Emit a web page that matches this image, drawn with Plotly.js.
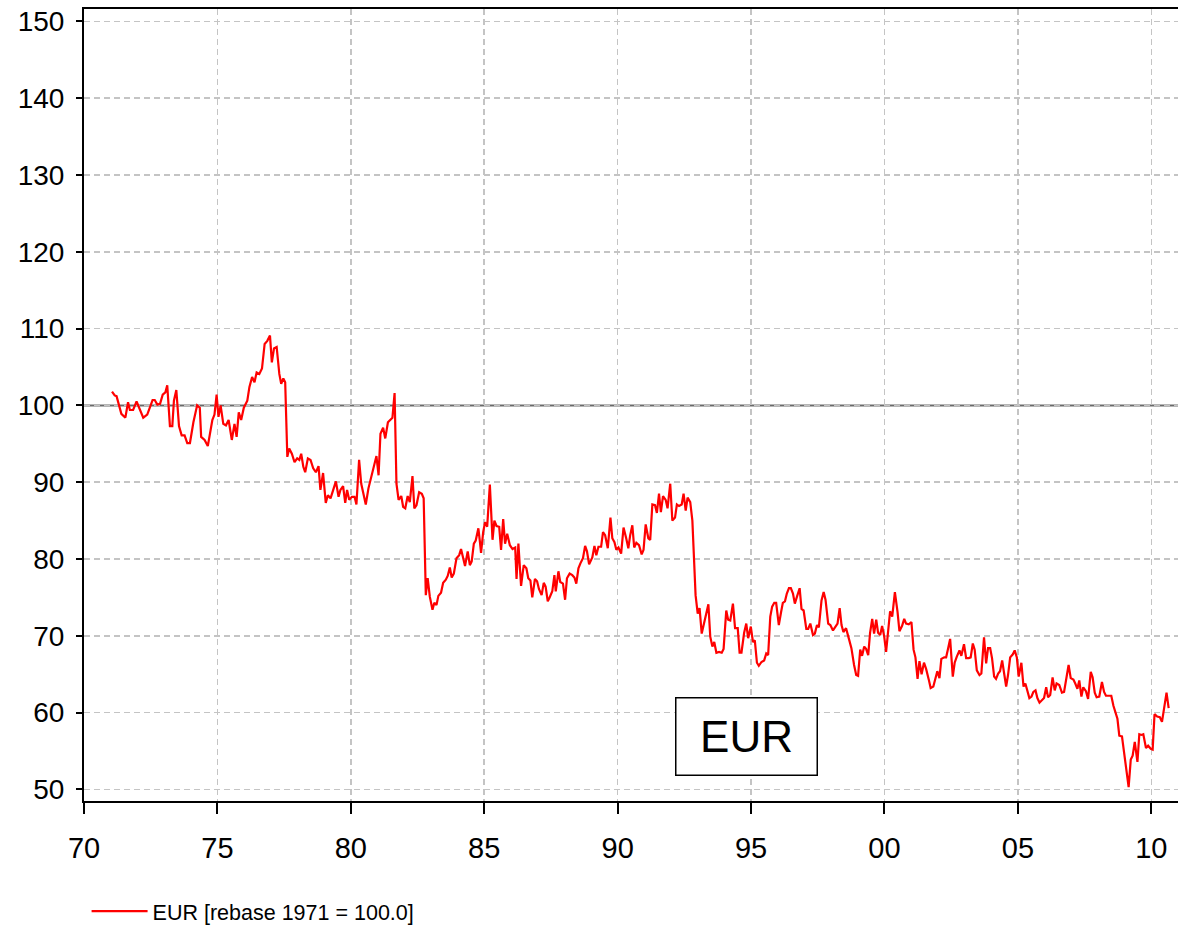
<!DOCTYPE html>
<html>
<head>
<meta charset="utf-8">
<script src="https://cdn.plot.ly/plotly-3.0.1.min.js"></script>
<style>html,body{margin:0;padding:0;background:#fff;}#chart{width:1178px;height:926px;}</style>
</head>
<body>
<div id="chart"></div>
<script>
const seriesName = "EUR [rebase 1971 = 100.0]";
const boxLabel = "EUR";
const tickYears = [1970, 1975, 1980, 1985, 1990, 1995, 2000, 2005, 2010];
const tickLabels = ["70", "75", "80", "85", "90", "95", "00", "05", "10"];
const yTicks = [50, 60, 70, 80, 90, 100, 110, 120, 130, 140, 150];
const baseLevel = 100;

const years = [
1971.05,1971.15,1971.22,1971.31,1971.40,1971.55,1971.65,1971.72,1971.84,1971.97,
1972.10,1972.22,1972.37,1972.47,1972.57,1972.65,1972.75,1972.85,1972.95,1973.05,
1973.12,1973.22,1973.31,1973.37,1973.46,1973.56,1973.66,1973.77,1973.87,1973.97,
1974.10,1974.24,1974.34,1974.39,1974.52,1974.64,1974.81,1974.89,1974.97,1975.04,
1975.12,1975.22,1975.32,1975.42,1975.54,1975.64,1975.72,1975.80,1975.89,1975.99,
1976.12,1976.20,1976.30,1976.39,1976.47,1976.57,1976.67,1976.77,1976.87,1976.97,
1977.04,1977.12,1977.22,1977.32,1977.39,1977.47,1977.54,1977.62,1977.69,1977.79,
1977.89,1977.99,1978.07,1978.14,1978.22,1978.29,1978.39,1978.49,1978.59,1978.69,
1978.79,1978.86,1978.96,1979.06,1979.14,1979.24,1979.34,1979.44,1979.54,1979.61,
1979.71,1979.79,1979.86,1979.94,1980.04,1980.14,1980.21,1980.31,1980.39,1980.46,
1980.56,1980.66,1980.76,1980.86,1980.96,1981.04,1981.11,1981.21,1981.29,1981.39,
1981.49,1981.56,1981.64,1981.71,1981.79,1981.89,1981.96,1982.04,1982.13,1982.21,
1982.31,1982.38,1982.46,1982.56,1982.66,1982.73,1982.81,1982.88,1982.96,1983.06,
1983.13,1983.21,1983.28,1983.38,1983.46,1983.56,1983.63,1983.71,1983.78,1983.86,
1983.96,1984.06,1984.13,1984.21,1984.28,1984.38,1984.46,1984.53,1984.61,1984.68,
1984.78,1984.83,1984.88,1984.96,1985.03,1985.11,1985.21,1985.31,1985.38,1985.46,
1985.56,1985.63,1985.71,1985.78,1985.86,1985.96,1986.06,1986.16,1986.21,1986.28,
1986.38,1986.48,1986.58,1986.65,1986.73,1986.80,1986.90,1986.98,1987.05,1987.15,
1987.23,1987.30,1987.38,1987.45,1987.55,1987.63,1987.68,1987.78,1987.85,1987.95,
1988.03,1988.10,1988.20,1988.30,1988.38,1988.45,1988.53,1988.60,1988.70,1988.78,
1988.85,1988.93,1989.05,1989.13,1989.20,1989.28,1989.38,1989.45,1989.53,1989.63,
1989.73,1989.80,1989.88,1989.95,1990.03,1990.13,1990.22,1990.32,1990.40,1990.47,
1990.55,1990.62,1990.70,1990.80,1990.90,1990.97,1991.05,1991.15,1991.22,1991.30,
1991.40,1991.47,1991.55,1991.62,1991.70,1991.80,1991.87,1991.97,1992.05,1992.15,
1992.22,1992.30,1992.40,1992.47,1992.55,1992.62,1992.72,1992.80,1992.87,1992.92,
1993.00,1993.07,1993.15,1993.25,1993.32,1993.40,1993.47,1993.55,1993.62,1993.70,
1993.80,1993.90,1993.97,1994.07,1994.14,1994.22,1994.32,1994.40,1994.50,1994.57,
1994.64,1994.74,1994.82,1994.89,1994.99,1995.07,1995.14,1995.22,1995.29,1995.39,
1995.49,1995.57,1995.64,1995.72,1995.79,1995.87,1995.94,1996.04,1996.12,1996.19,
1996.27,1996.34,1996.42,1996.49,1996.57,1996.64,1996.72,1996.82,1996.89,1996.97,
1997.07,1997.14,1997.22,1997.32,1997.39,1997.47,1997.54,1997.64,1997.72,1997.79,
1997.89,1997.97,1998.07,1998.17,1998.24,1998.32,1998.39,1998.46,1998.56,1998.66,
1998.76,1998.86,1998.94,1999.01,1999.09,1999.16,1999.24,1999.31,1999.39,1999.46,
1999.54,1999.61,1999.69,1999.76,1999.84,1999.91,1999.99,2000.06,2000.14,2000.21,
2000.29,2000.39,2000.49,2000.56,2000.66,2000.74,2000.81,2000.91,2001.01,2001.09,
2001.16,2001.24,2001.31,2001.39,2001.48,2001.56,2001.66,2001.73,2001.83,2001.91,
2001.98,2002.06,2002.13,2002.24,2002.31,2002.38,2002.46,2002.56,2002.63,2002.71,
2002.81,2002.88,2002.98,2003.06,2003.16,2003.23,2003.31,2003.38,2003.46,2003.56,
2003.63,2003.73,2003.81,2003.88,2003.96,2004.03,2004.11,2004.18,2004.26,2004.33,
2004.41,2004.48,2004.56,2004.63,2004.71,2004.81,2004.88,2004.96,2005.03,2005.13,
2005.21,2005.28,2005.36,2005.43,2005.51,2005.58,2005.66,2005.73,2005.81,2005.88,
2005.98,2006.06,2006.13,2006.21,2006.30,2006.38,2006.45,2006.55,2006.65,2006.73,
2006.83,2006.90,2006.98,2007.08,2007.15,2007.23,2007.30,2007.38,2007.45,2007.55,
2007.63,2007.73,2007.80,2007.88,2007.95,2008.05,2008.15,2008.23,2008.30,2008.40,
2008.50,2008.58,2008.65,2008.73,2008.80,2008.90,2008.98,2009.08,2009.15,2009.23,
2009.30,2009.38,2009.48,2009.55,2009.63,2009.70,2009.80,2009.88,2009.98,2010.05,
2010.12,2010.22,2010.32,2010.40,2010.47,2010.57,2010.65
];

const values = [
101.8,101.3,101.2,100.0,98.9,98.4,100.4,99.4,99.4,100.5,
99.4,98.4,98.8,99.7,100.7,100.7,100.1,100.2,101.4,101.7,
102.6,97.3,97.3,100.6,102.0,97.3,96.1,96.1,95.1,95.1,
97.8,100.0,99.7,95.9,95.5,94.7,98.1,98.8,101.4,98.5,
100.0,97.6,97.4,98.1,95.5,97.6,95.9,99.1,98.1,99.7,
100.6,102.4,103.7,103.0,104.3,104.1,104.8,108.0,108.4,109.1,
105.6,107.4,107.6,104.1,102.8,103.5,103.0,93.3,94.4,93.7,
92.6,93.1,92.9,93.7,92.0,91.3,93.1,92.9,91.8,91.3,
92.1,89.0,91.2,87.3,88.3,87.9,89.0,90.1,88.1,89.0,
89.5,87.3,89.0,87.7,88.1,88.1,87.1,92.9,89.8,88.7,
87.1,89.2,90.7,92.0,93.4,90.9,96.3,97.1,95.7,97.8,
98.1,98.4,101.6,89.8,87.7,88.2,86.8,86.6,88.2,87.4,
90.8,86.6,87.0,88.7,88.5,87.9,75.3,77.5,75.1,73.4,
74.3,74.0,75.2,75.6,76.9,77.3,77.8,78.9,77.6,78.1,
80.1,80.5,81.3,80.3,79.1,81.0,79.2,79.7,82.0,82.4,
84.0,82.5,80.8,83.5,84.8,84.2,89.7,82.5,85.0,84.3,
84.2,81.2,85.2,82.0,83.3,81.8,81.3,81.5,77.4,82.0,
76.5,79.2,78.8,77.5,77.2,75.0,77.4,77.1,76.1,75.3,
76.9,76.4,74.5,75.0,75.8,77.9,75.8,78.4,77.0,76.8,
74.7,77.5,78.1,77.9,77.6,76.8,78.8,79.4,80.1,81.7,
81.0,79.3,80.2,81.7,80.5,81.6,81.6,83.5,83.1,81.4,
85.4,82.7,82.2,81.2,81.5,80.7,84.1,82.7,81.4,83.1,
84.4,81.5,82.1,81.8,80.6,81.2,84.5,82.7,82.5,87.1,
87.0,86.0,88.5,86.1,88.2,87.7,86.6,89.8,85.0,85.4,
87.1,86.9,87.1,88.5,86.3,88.0,87.4,85.0,79.8,75.3,
72.9,73.6,70.3,71.8,73.1,74.1,69.9,68.6,69.2,67.8,
67.9,67.8,68.3,73.3,72.1,72.0,74.2,71.0,71.0,67.8,
67.8,70.4,71.6,69.7,71.2,69.2,69.4,66.5,66.1,66.6,
66.8,67.7,67.5,72.5,73.8,74.3,74.3,71.4,73.0,74.3,
74.5,75.5,76.2,76.2,75.5,74.2,75.1,76.2,73.5,73.3,
70.9,70.9,71.6,70.1,70.3,71.4,71.1,74.6,75.7,74.7,
71.6,71.4,70.7,71.3,71.6,73.6,71.4,70.5,71.0,69.7,
68.4,66.2,64.9,64.8,68.2,67.4,68.6,68.3,67.5,70.4,
72.2,70.3,72.1,70.4,70.1,71.3,69.9,67.9,70.9,73.2,
72.5,75.7,73.1,70.6,71.3,72.2,71.6,71.5,71.8,68.2,
67.2,64.4,66.7,65.0,66.5,65.7,64.3,63.2,63.4,64.7,
65.4,64.5,67.0,67.2,67.2,68.3,69.6,64.7,66.5,67.3,
68.1,67.4,68.9,67.1,67.1,67.2,69.0,68.2,65.5,64.9,
65.1,69.8,66.4,68.4,68.4,67.1,64.7,64.4,65.1,65.4,
66.8,65.2,63.4,64.9,67.2,67.6,68.1,67.2,64.7,66.5,
63.4,63.8,62.7,61.9,62.1,62.7,62.9,61.9,61.3,61.6,
61.9,63.3,62.0,62.3,64.6,62.9,63.8,63.6,62.6,62.7,
64.5,66.2,64.5,64.3,63.8,63.1,64.2,62.1,63.3,62.8,
61.8,65.3,64.6,62.6,62.0,62.1,64.0,62.7,62.2,62.2,
62.2,60.9,60.2,59.2,57.0,56.9,54.8,52.2,50.3,53.9,
54.4,56.2,53.6,57.2,57.1,57.2,55.4,55.7,55.3,55.2,
59.8,59.5,59.4,58.8,60.6,62.6,60.6
];

const trace = {
  x: years,
  y: values,
  type: "scatter",
  mode: "lines",
  name: seriesName,
  line: {color: "#ff0000", width: 2.2}
};

const gridDash = "6px,4px";
const layout = {
  width: 1178,
  height: 926,
  margin: {l: 84, r: 0, t: 9, b: 125, pad: 0},
  paper_bgcolor: "#ffffff",
  plot_bgcolor: "#ffffff",
  font: {family: "Liberation Sans, Arial, sans-serif", color: "#000000"},
  xaxis: {
    range: [1970, 2011],
    tickvals: tickYears,
    ticktext: tickLabels,
    showline: true,
    linecolor: "#000000",
    linewidth: 2,
    mirror: true,
    ticks: "outside",
    ticklen: 11,
    tickwidth: 2,
    tickcolor: "#000000",
    ticklabelstandoff: 9,
    tickfont: {size: 29, family: "Liberation Sans, Arial, sans-serif"},
    showgrid: true,
    gridcolor: "#c4c4c4",
    gridwidth: 1.5,
    griddash: gridDash,
    zeroline: false
  },
  yaxis: {
    range: [48.5, 151.6],
    tickvals: yTicks,
    showline: true,
    linecolor: "#000000",
    linewidth: 2,
    ticks: "outside",
    ticklen: 6,
    tickwidth: 2,
    tickcolor: "#000000",
    ticklabelstandoff: 6,
    tickfont: {size: 28, family: "Liberation Sans, Arial, sans-serif"},
    showgrid: true,
    gridcolor: "#c4c4c4",
    gridwidth: 1.5,
    griddash: gridDash,
    zeroline: false
  },
  shapes: [{
    type: "line",
    xref: "paper", x0: 0, x1: 1,
    yref: "y", y0: baseLevel, y1: baseLevel,
    line: {color: "#6a6a6a", width: 2},
    layer: "below"
  }],
  annotations: [{
    text: boxLabel,
    xref: "paper", yref: "paper",
    x: 0.606, y: 0.081,
    xanchor: "center", yanchor: "middle",
    showarrow: false,
    font: {size: 44, color: "#000000", family: "Liberation Sans, Arial, sans-serif"},
    bgcolor: "#ffffff",
    bordercolor: "#000000",
    borderwidth: 1.5,
    width: 138,
    height: 74
  }],
  showlegend: true,
  legend: {
    xref: "container", yref: "container",
    x: 0.0735, y: 0.016,
    xanchor: "left", yanchor: "middle",
    orientation: "h",
    itemwidth: 56,
    font: {size: 21.5, family: "Liberation Sans, Arial, sans-serif", color: "#000000"},
    bgcolor: "rgba(255,255,255,0)"
  }
};

Plotly.newPlot("chart", [trace], layout, {displayModeBar: false, staticPlot: true});
</script>
</body>
</html>
